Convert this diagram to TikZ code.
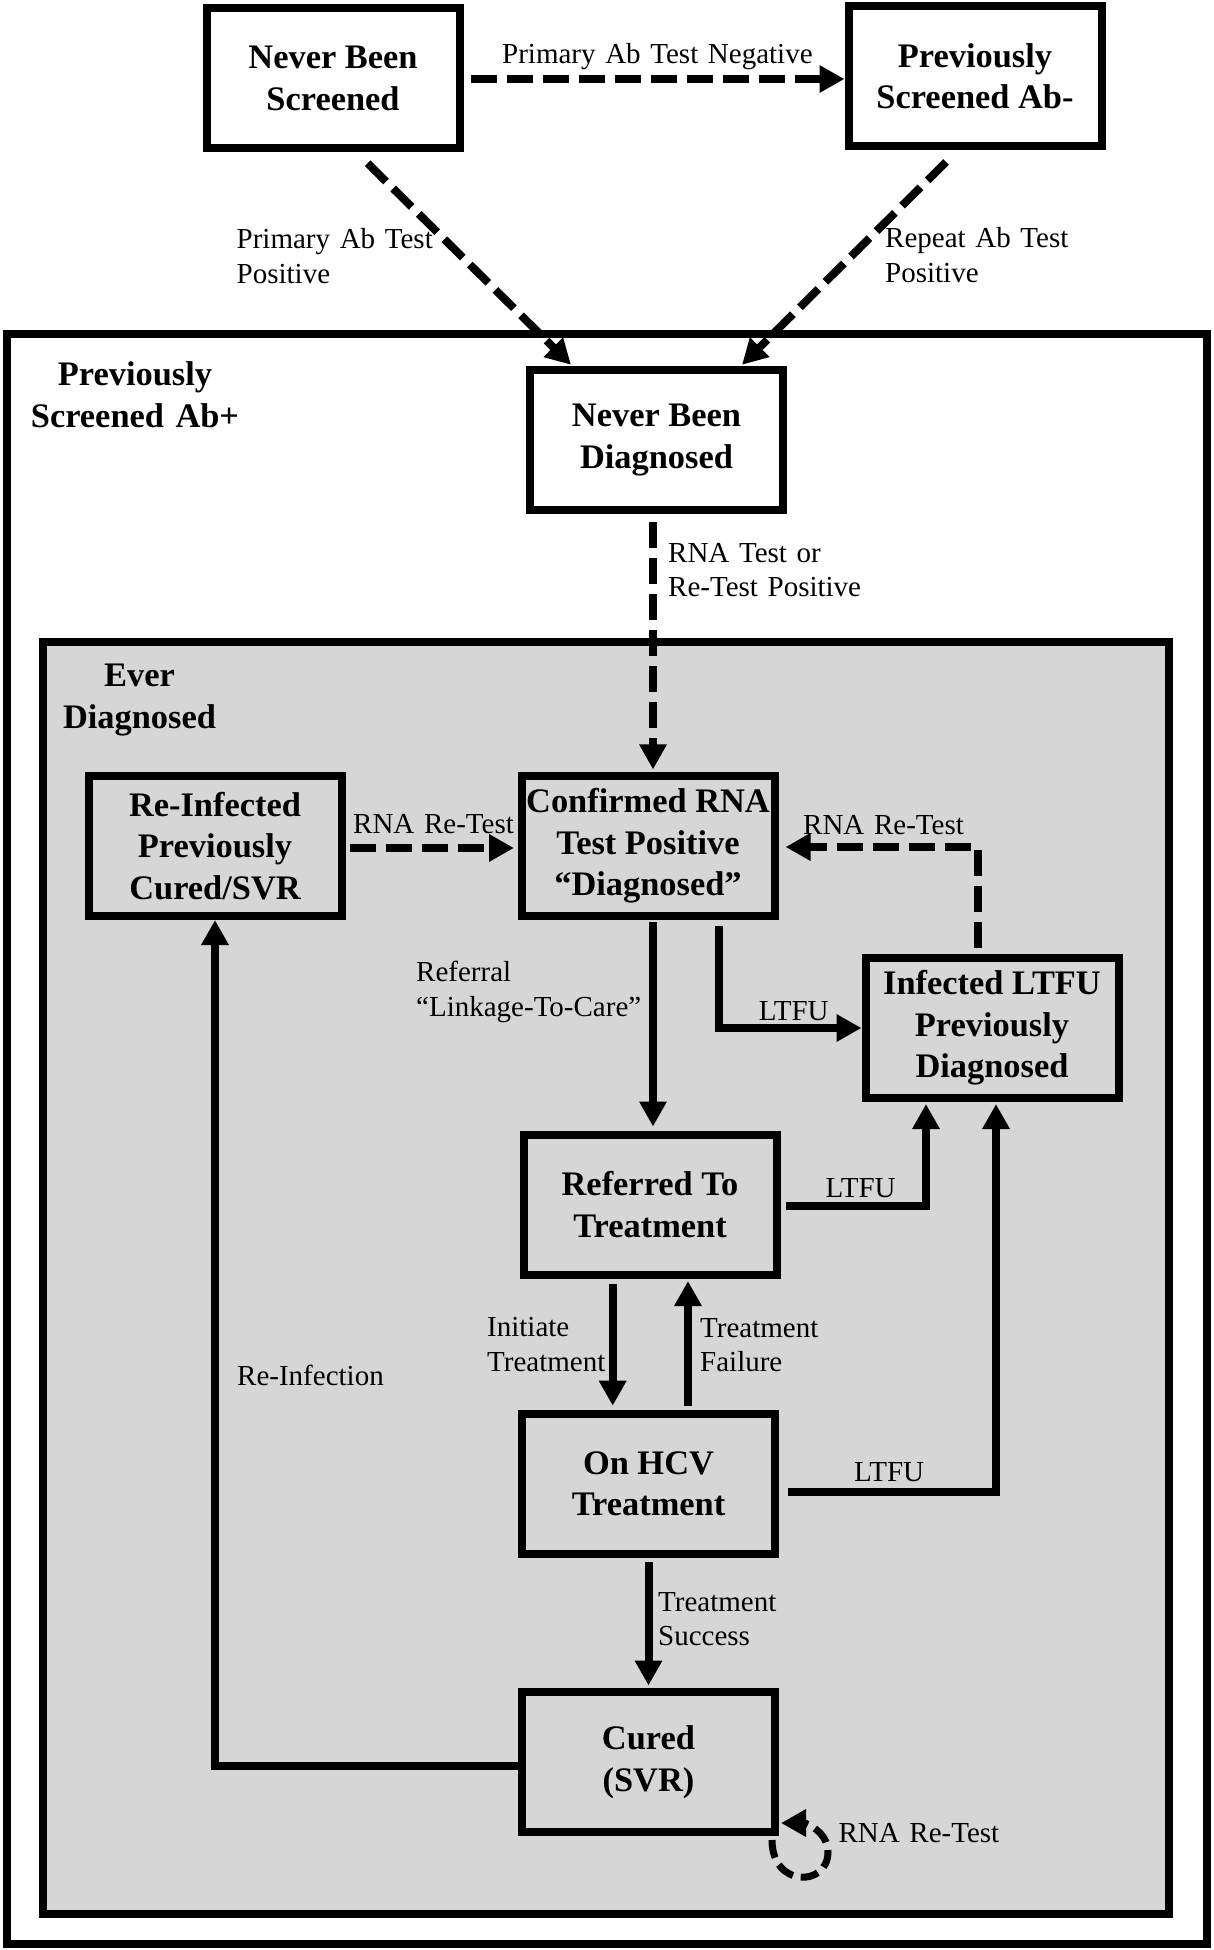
\documentclass[tikz,border=0pt]{standalone}
\usepackage{fontspec}
\setmainfont{Liberation Serif}
\usetikzlibrary{arrows.meta,calc}
\definecolor{panelgray}{RGB}{214,214,214}
\begin{document}
\begin{tikzpicture}[x=1pt,y=-1pt,
  box/.style={draw=black, line width=8pt, minimum width=253pt, minimum height=140pt, inner sep=0pt, align=center, font=\bfseries\fontsize{34.4pt}{41.5pt}\selectfont},
  whitebox/.style={box, fill=white},
  graybox/.style={box, fill=panelgray},
  lbl/.style={inner sep=0pt, anchor=base west, text width=400pt, align=left, font=\fontsize{29pt}{34.5pt}\selectfont},
  grouplbl/.style={inner sep=0pt, anchor=base, text width=300pt, align=center, font=\bfseries\fontsize{34.4pt}{41.5pt}\selectfont},
  flow/.style={line width=8pt, -{Triangle[length=25pt,width=26pt]}, line join=miter},
  dflow/.style={flow, dash pattern=on 26pt off 10pt},
  container/.style={draw=black, line width=8pt},
]
\useasboundingbox (0,0) rectangle (1213,1950);
\fill[white] (0,0) rectangle (1213,1950);

% containers
\draw[container] (7,334) rectangle (1207,1943.5);
\draw[container, fill=panelgray] (43,642) rectangle (1169,1914);

% state boxes
\node[whitebox] (nbs) at (333,78.5) {Never Been\\Screened};
\node[whitebox] (psneg) at (975,76) {Previously\\Screened Ab-};
\node[whitebox] (nbd) at (656.5,440) {Never Been\\Diagnosed};
\node[graybox] (reinf) at (215,846) {Re-Infected\\Previously\\Cured/SVR};
\node[graybox] (conf) at (648,846) {Confirmed RNA\\Test Positive\\“Diagnosed”};
\node[graybox] (ltfu) at (992,1028) {Infected LTFU\\Previously\\Diagnosed};
\node[graybox] (ref) at (650,1204.5) {Referred To\\Treatment};
\node[graybox] (onhcv) at (648.5,1484) {On HCV\\Treatment};
\node[graybox] (cured) at (648.5,1762) {Cured\\(SVR)};

% group labels
\node[grouplbl] (lblab) at (135,385.5) {Previously\\Screened Ab+};
\node[grouplbl] (lblever) at (139.5,686.5) {Ever\\Diagnosed};

% connector labels
\node[lbl] (l1) at (502,64) {Primary Ab Test Negative};
\node[lbl] (l2) at (236.5,249) {Primary Ab Test\\Positive};
\node[lbl] (l3) at (885,248) {Repeat Ab Test\\Positive};
\node[lbl] (l4) at (668,562) {RNA Test or\\Re-Test Positive};
\node[lbl] (l5) at (353,833) {RNA Re-Test};
\node[lbl] (l6) at (803,834.5) {RNA Re-Test};
\node[lbl] (l7) at (416,981.6) {Referral\\“Linkage-To-Care”};
\node[lbl] (l8) at (758.6,1020) {LTFU};
\node[lbl] (l9) at (825.5,1197) {LTFU};
\node[lbl] (l10) at (487,1336.5) {Initiate\\Treatment};
\node[lbl] (l11) at (700,1337) {Treatment\\Failure};
\node[lbl] (l12) at (237,1385) {Re-Infection};
\node[lbl] (l13) at (854,1481.6) {LTFU};
\node[lbl] (l14) at (658,1611) {Treatment\\Success};
\node[lbl] (l15) at (838.4,1842) {RNA Re-Test};

% dashed connectors
\draw[dflow] ($(nbs.east)+(7.5,0.5)$) -- ($(psneg.west)+(0,3)$);
\draw[dflow] ($(nbs.south)+(34.6,10.7)$) -- ($(nbd.north)+(-85.5,-1.2)$);
\draw[dflow] ($(psneg.south)+(-29,12)$) -- ($(nbd.north)+(85.5,-1.2)$);
\draw[dflow] ($(nbd.south)+(-3.5,8)$) -- ($(conf.north)+(5,-2.6)$);
\draw[dflow] ($(reinf.east)+(4.5,2)$) -- ($(conf.west)+(-3.5,2)$);
\draw[dflow] ($(ltfu.north)+(-13.6,-6.5)$) |- ($(conf.east)+(7,1)$);

% solid connectors
\draw[flow] ($(conf.south)+(71,6)$) |- (ltfu.west);
\draw[flow] ($(conf.south)+(5,2)$) -- ($(ref.north)+(3,-4)$);
\draw[flow] ($(ref.east)+(5,1.5)$) -| ($(ltfu.south)+(-66,2)$);
\draw[flow] ($(ref.south)+(-37.3,5)$) -- ($(onhcv.north)+(-35.8,-4.3)$);
\draw[flow] ($(onhcv.north)+(39.5,-4.3)$) -- ($(ref.south)+(38,2.5)$);
\draw[flow] ($(onhcv.east)+(9,7.5)$) -| ($(ltfu.south)+(4,2)$);
\draw[flow] ($(onhcv.south)+(0,4)$) -- ($(cured.north)+(0,-2.5)$);
\draw[flow] ($(cured.west)+(0,4)$) -| (reinf.south);

% self loop
\draw[line width=7pt, dash pattern=on 18pt off 8pt, -{Triangle[length=25pt,width=26pt]}]
  ($(cured.south east)+(-7,4)$) .. controls +(0,48) and +(0,35) .. ($(cured.south east)+(49,16)$)
  .. controls +(0,-20) and +(25,0) .. ($(cured.south east)+(2,-13)$);
\end{tikzpicture}
\end{document}
